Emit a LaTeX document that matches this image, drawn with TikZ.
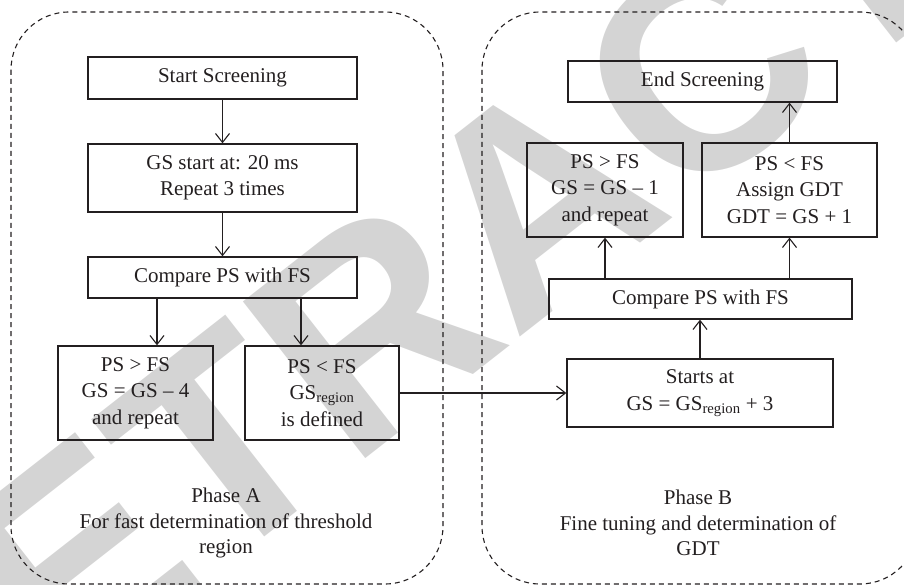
\documentclass[tikz,border=0pt]{standalone}
\usepackage{fontspec}
\setmainfont{Liberation Serif}
\newfontfamily\wmfont{Liberation Sans}
\usetikzlibrary{arrows.meta}
\definecolor{ink}{HTML}{231F20}
\definecolor{wmgray}{HTML}{D4D4D4}
\tikzset{
  stepbox/.style={draw=ink, line width=1.3pt, align=center, inner sep=0pt,
    font=\fontsize{21}{26.5}\selectfont, text=ink},
  panel/.style={draw=ink, line width=1.1pt, dash pattern=on 5pt off 4pt,
    rounded corners=58pt},
  arr/.style={draw=ink, line width=1.1pt, -{Straight Barb[length=9pt,width=14pt,line width=1.1pt]}},
  caption/.style={align=center, inner sep=0pt, text=ink,
    font=\fontsize{21}{25.5}\selectfont},
}
\begin{document}
\begin{tikzpicture}[x=1pt,y=-1pt]
\useasboundingbox (0,0) rectangle (904,585);
% watermark lettering behind the chart
\begin{scope}
  \clip (0,0) rectangle (904,585);
  \node[rotate=38, inner sep=0pt, text=wmgray,
        font=\wmfont\bfseries\fontsize{289}{300}\selectfont] (wm) at (536,199) {RETRACTED};
\end{scope}

% the two phases
\draw[panel] (11,12) rectangle (443,584);
\draw[panel] (482,12) rectangle (918,584);

% phase A
\node[stepbox, minimum width=269pt, minimum height=42pt] (start) at (222.5,78) {Start Screening};
\node[stepbox, minimum width=269pt, minimum height=68pt] (gsA) at (222.5,178) {GS start at: 20 ms\\Repeat 3 times};
\node[stepbox, minimum width=269pt, minimum height=41pt] (cmpA) at (222.5,277.5) {Compare PS with FS};
\node[stepbox, minimum width=155pt, minimum height=94pt] (psgtA) at (135.5,393) {PS > FS\\GS = GS – 4\\and repeat};
\node[stepbox, minimum width=154pt, minimum height=94pt] (psltA) at (322,393) {PS < FS\\GS\textsubscript{region}\\is defined};
\node[caption] (capA) at (226,523) {Phase A\\For fast determination of threshold\\region};

% phase B
\node[stepbox, minimum width=269pt, minimum height=41pt] (endB) at (702.5,81.5) {End Screening};
\node[stepbox, minimum width=156pt, minimum height=94pt] (psgtB) at (605,190) {PS > FS\\GS = GS – 1\\and repeat};
\node[stepbox, minimum width=175pt, minimum height=94pt] (psltB) at (789.5,190) {PS < FS\\Assign GDT\\GDT = GS + 1};
\node[stepbox, minimum width=303pt, minimum height=40pt] (cmpB) at (700.5,299) {Compare PS with FS};
\node[stepbox, minimum width=266pt, minimum height=68pt] (startB) at (700,393) {Starts at\\GS = GS\textsubscript{region} + 3};
\node[caption] (capB) at (698,523) {Phase B\\Fine tuning and determination of\\GDT};

% connectors
\draw[arr] (start) -- (gsA);
\draw[arr] (gsA) -- (cmpA);
\draw[arr] ([xshift=-65.5pt]cmpA.south) -- ([xshift=-65.5pt]cmpA.south |- psgtA.north);
\draw[arr] ([xshift=78.5pt]cmpA.south) -- ([xshift=78.5pt]cmpA.south |- psltA.north);
\draw[arr] (psltA.east) -- (startB.west);
\draw[arr] (startB.north) -- (startB.north |- cmpB.south);
\draw[arr] (cmpB.north -| psgtB.south) -- (psgtB.south);
\draw[arr] (cmpB.north -| psltB.south) -- (psltB.south);
\draw[arr] (psltB.north) -- (psltB.north |- endB.south);
\end{tikzpicture}
\end{document}
